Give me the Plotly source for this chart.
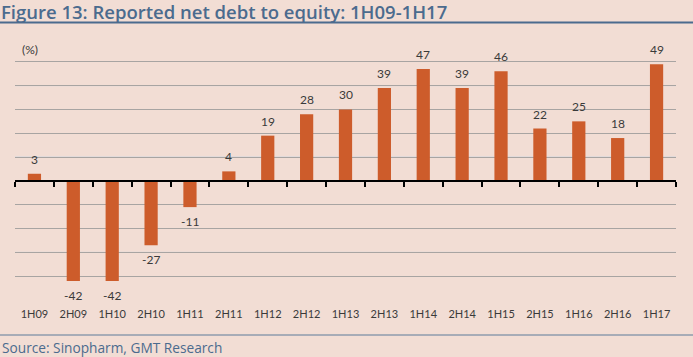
import plotly.graph_objects as go

categories = ["1H09", "2H09", "1H10", "2H10", "1H11", "2H11", "1H12", "2H12", "1H13",
              "2H13", "1H14", "2H14", "1H15", "2H15", "1H16", "2H16", "1H17"]
values = [3, -42, -42, -27, -11, 4, 19, 28, 30, 39, 47, 39, 46, 22, 25, 18, 49]
y_min, y_max, y_step = -50, 60, 10
light_grid_levels = [40, 10, -30]

BG = "#F2DDD4"
BAR = "#CD5C2B"
BLUE = "#4B6B8E"
TXT = "#3A3A3A"
FONT = "Lato"

W, H = 693, 357
L, R, T, B = 15, 17, 38, 57
pw, ph = W - L - R, H - T - B

fig = go.Figure()
fig.add_trace(go.Bar(
    x=categories, y=values, marker=dict(color=BAR, line=dict(width=0)),
    width=0.34, hoverinfo="skip",
))
# invisible trace to drive the zero-line axis with boundary ticks
fig.add_trace(go.Bar(x=categories, y=[0] * len(categories), xaxis="x2",
                     marker=dict(color="rgba(0,0,0,0)"), hoverinfo="skip", showlegend=False))

zero_pos = (0 - y_min) / (y_max - y_min)

fig.update_layout(
    width=W, height=H, margin=dict(l=L, r=R, t=T, b=B),
    paper_bgcolor=BG, plot_bgcolor=BG, showlegend=False, barmode="overlay",
    font=dict(family=FONT, color=TXT),
    title=dict(text="Figure 13: Reported net debt to equity: 1H09-1H17",
               x=1 / W, xanchor="left", xref="container",
               y=1 - 12.5 / H, yanchor="middle", yref="container",
               font=dict(family="Open Sans", size=18.5, color=BLUE, weight=600)),
    xaxis=dict(type="category", showgrid=False, showline=False, zeroline=False, ticks="",
               tickfont=dict(family=FONT, size=11, color=TXT), ticklabelstandoff=6),
    xaxis2=dict(type="category", overlaying="x", matches="x", anchor="free",
                position=zero_pos, side="bottom", showline=True, linecolor="#000000",
                linewidth=1.5, ticks="outside", tickson="boundaries", ticklen=5,
                tickcolor="#000000", tickwidth=1.5, showticklabels=False, showgrid=False),
    yaxis=dict(range=[y_min, y_max], dtick=y_step, showticklabels=False, ticks="",
               showgrid=True, gridcolor="#A8A4A2", gridwidth=1, zeroline=False),
)

for c, v in zip(categories, values):
    fig.add_annotation(x=c, y=v, text=str(v), showarrow=False,
                       yanchor="bottom" if v >= 0 else "top", yshift=5 if v >= 0 else -5,
                       font=dict(family=FONT, size=12, color=TXT))

for lv in light_grid_levels:
    fig.add_shape(type="line", xref="paper", yref="y", x0=0, x1=1, y0=lv, y1=lv,
                  line=dict(color="#CCD6E2", width=1), layer="below")

# header rule and footer rule
fig.add_shape(type="line", xref="paper", yref="paper", x0=-L / pw, x1=1 + R / pw,
              y0=1 + (T - 22.5) / ph, y1=1 + (T - 22.5) / ph, line=dict(color=BLUE, width=2))
fig.add_shape(type="line", xref="paper", yref="paper", x0=-L / pw, x1=1 + R / pw,
              y0=-(335 - (T + ph)) / ph, y1=-(335 - (T + ph)) / ph, line=dict(color="#5C7B99", width=1))

fig.add_annotation(text="(%)", xref="paper", yref="paper", x=(20 - L) / pw, y=1 - 12 / ph,
                   xanchor="left", yanchor="middle", showarrow=False,
                   font=dict(family=FONT, size=12, color=TXT))
fig.add_annotation(text="Source: Sinopharm, GMT Research", xref="paper", yref="paper",
                   x=-L / pw, y=-(347 - (T + ph)) / ph, xanchor="left", yanchor="middle",
                   showarrow=False, font=dict(family="Open Sans", size=13.7, color=BLUE))

fig.write_html("out.html", config={"displayModeBar": False},
               post_script="document.body.style.margin='0';")
